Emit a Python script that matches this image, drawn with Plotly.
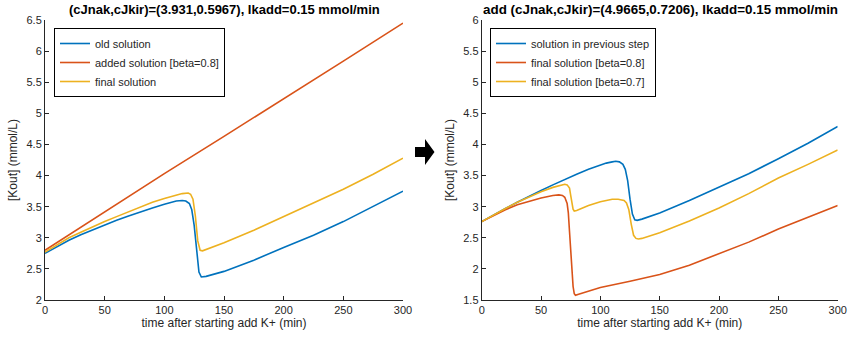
import plotly.graph_objects as go

# ---------------- data ----------------
# Left panel
t_old = [0, 10, 20, 30, 40, 50, 60, 70, 80, 90, 100, 105, 110, 115, 118, 121, 123, 125, 127, 129, 131, 135, 150, 175, 200, 225, 250, 275, 300]
k_old = [2.75, 2.86, 2.96, 3.05, 3.13, 3.20, 3.28, 3.35, 3.42, 3.48, 3.54, 3.57, 3.59, 3.60, 3.59, 3.55, 3.45, 3.2, 2.8, 2.45, 2.37, 2.38, 2.46, 2.64, 2.845, 3.04, 3.26, 3.50, 3.75]

t_added = [0, 50, 100, 150, 200, 250, 300]
k_added = [2.80, 3.42, 4.03, 4.63, 5.23, 5.84, 6.45]

t_final = [0, 10, 20, 30, 40, 50, 60, 70, 80, 90, 100, 110, 115, 120, 122, 124, 126, 128, 130, 132, 135, 150, 175, 200, 225, 250, 275, 300]
k_final = [2.77, 2.89, 3.00, 3.09, 3.18, 3.26, 3.34, 3.42, 3.50, 3.57, 3.63, 3.69, 3.71, 3.72, 3.70, 3.62, 3.35, 2.95, 2.80, 2.79, 2.81, 2.92, 3.12, 3.34, 3.55, 3.78, 4.02, 4.28]

# Right panel
t_prev = [0, 10, 20, 30, 40, 50, 60, 70, 80, 90, 100, 105, 110, 113, 116, 119, 121, 123, 125, 127, 129, 131, 135, 150, 175, 200, 225, 250, 275, 300]
k_prev = [2.76, 2.87, 2.97, 3.07, 3.17, 3.26, 3.35, 3.44, 3.52, 3.60, 3.67, 3.70, 3.72, 3.73, 3.72, 3.68, 3.60, 3.42, 3.12, 2.88, 2.79, 2.78, 2.80, 2.90, 3.10, 3.31, 3.53, 3.77, 4.02, 4.29]

t_b08 = [0, 10, 20, 30, 40, 50, 60, 65, 68, 70, 72, 73, 74, 75, 76, 77, 78, 79, 81, 90, 100, 125, 150, 175, 200, 225, 250, 275, 300]
k_b08 = [2.76, 2.86, 2.95, 3.03, 3.09, 3.14, 3.18, 3.19, 3.18, 3.15, 3.05, 2.9, 2.6, 2.25, 1.95, 1.72, 1.60, 1.575, 1.59, 1.64, 1.70, 1.80, 1.91, 2.06, 2.24, 2.43, 2.64, 2.83, 3.02]

t_b07 = [0, 10, 20, 30, 40, 50, 60, 65, 70, 72, 74, 75, 76, 77, 78, 80, 85, 90, 100, 110, 115, 120, 122, 124, 126, 128, 130, 132, 135, 150, 175, 200, 225, 250, 275, 300]
k_b07 = [2.76, 2.87, 2.97, 3.07, 3.16, 3.24, 3.31, 3.34, 3.36, 3.35, 3.30, 3.18, 3.05, 2.96, 2.93, 2.94, 2.98, 3.02, 3.08, 3.12, 3.12, 3.10, 3.06, 2.95, 2.72, 2.54, 2.49, 2.48, 2.49, 2.58, 2.77, 2.98, 3.21, 3.46, 3.68, 3.91]

x_ticks = [0, 50, 100, 150, 200, 250, 300]
left_title = "(cJnak,cJkir)=(3.931,0.5967), Ikadd=0.15 mmol/min"
right_title = "add (cJnak,cJkir)=(4.9665,0.7206), Ikadd=0.15 mmol/min"
x_label = "time after starting add K+ (min)"
y_label = "[Kout] (mmol/L)"

BLUE, RED, YEL = "#0072BD", "#D95319", "#EDB120"
FONT = "Liberation Sans, Arial, sans-serif"
AX = "#262626"

fig = go.Figure()
lw = 1.6
fig.add_trace(go.Scatter(x=t_old, y=k_old, mode="lines", name="old solution",
                         line=dict(color=BLUE, width=lw), xaxis="x", yaxis="y", legend="legend"))
fig.add_trace(go.Scatter(x=t_added, y=k_added, mode="lines", name="added solution [beta=0.8]",
                         line=dict(color=RED, width=lw), xaxis="x", yaxis="y", legend="legend"))
fig.add_trace(go.Scatter(x=t_final, y=k_final, mode="lines", name="final solution",
                         line=dict(color=YEL, width=lw), xaxis="x", yaxis="y", legend="legend"))

fig.add_trace(go.Scatter(x=t_prev, y=k_prev, mode="lines", name="solution in previous step",
                         line=dict(color=BLUE, width=lw), xaxis="x2", yaxis="y2", legend="legend2"))
fig.add_trace(go.Scatter(x=t_b08, y=k_b08, mode="lines", name="final solution [beta=0.8]",
                         line=dict(color=RED, width=lw), xaxis="x2", yaxis="y2", legend="legend2"))
fig.add_trace(go.Scatter(x=t_b07, y=k_b07, mode="lines", name="final solution [beta=0.7]",
                         line=dict(color=YEL, width=lw), xaxis="x2", yaxis="y2", legend="legend2"))

W, H = 850, 340
ML, MR, MT, MB = 45, 12, 20, 40
PW, PH = W - ML - MR, H - MT - MB

def px(x):  # page pixel -> paper
    return (x - ML) / PW
def py(y):
    return (H - MB - y) / PH

common_x = dict(range=[0, 300], tickvals=x_ticks, ticks="inside", ticklen=4, tickcolor=AX,
                showline=True, linecolor=AX, linewidth=1, showgrid=False, zeroline=False,
                automargin=False,
                tickfont=dict(size=11, color=AX, family=FONT),
                title=dict(text=x_label, font=dict(size=12, color=AX, family=FONT), standoff=2))
common_y = dict(dtick=0.5, ticks="inside", ticklen=4, tickcolor=AX,
                showline=True, linecolor=AX, linewidth=1, showgrid=False, zeroline=False,
                automargin=False,
                tickfont=dict(size=11, color=AX, family=FONT),
                title=dict(text=y_label, font=dict(size=12, color=AX, family=FONT), standoff=6))

legend_common = dict(bgcolor="white", bordercolor="#000000", borderwidth=1,
                     font=dict(size=11, color=AX, family=FONT), xanchor="left", yanchor="top",
                     tracegroupgap=0, itemwidth=30)

fig.update_layout(
    width=W, height=H, margin=dict(l=ML, r=MR, t=MT, b=MB),
    paper_bgcolor="white", plot_bgcolor="white",
    xaxis=dict(domain=[px(45), px(403)], anchor="y", **common_x),
    yaxis=dict(domain=[0, 1], anchor="x", range=[2, 6.5], **common_y),
    xaxis2=dict(domain=[px(481.7), px(837.7)], anchor="y2", **common_x),
    yaxis2=dict(domain=[0, 1], anchor="x2", range=[1.5, 6], **common_y),
    legend=dict(x=px(54), y=py(28), **legend_common),
    legend2=dict(x=px(490), y=py(28), **legend_common),
    annotations=[
        dict(text="<b>" + left_title + "</b>", x=px(224), y=py(10), xref="paper", yref="paper",
             showarrow=False, font=dict(size=13, color="#000", family=FONT), xanchor="center", yanchor="middle"),
        dict(text="<b>" + right_title + "</b>", x=px(660), y=py(10), xref="paper", yref="paper",
             showarrow=False, font=dict(size=13.4, color="#000", family=FONT), xanchor="center", yanchor="middle"),
    ],
    shapes=[
        dict(type="path", xref="paper", yref="paper",
             path=(f"M {px(415)} {py(147)} L {px(425)} {py(147)} L {px(425)} {py(139)} "
                   f"L {px(434.5)} {py(152)} L {px(425)} {py(165)} L {px(425)} {py(157)} "
                   f"L {px(415)} {py(157)} Z"),
             fillcolor="black", line=dict(color="black", width=0)),
    ],
)

fig.write_html("out.html",
               config={"displayModeBar": False},
               post_script="document.body.style.margin='0';document.body.style.overflow='hidden';")
